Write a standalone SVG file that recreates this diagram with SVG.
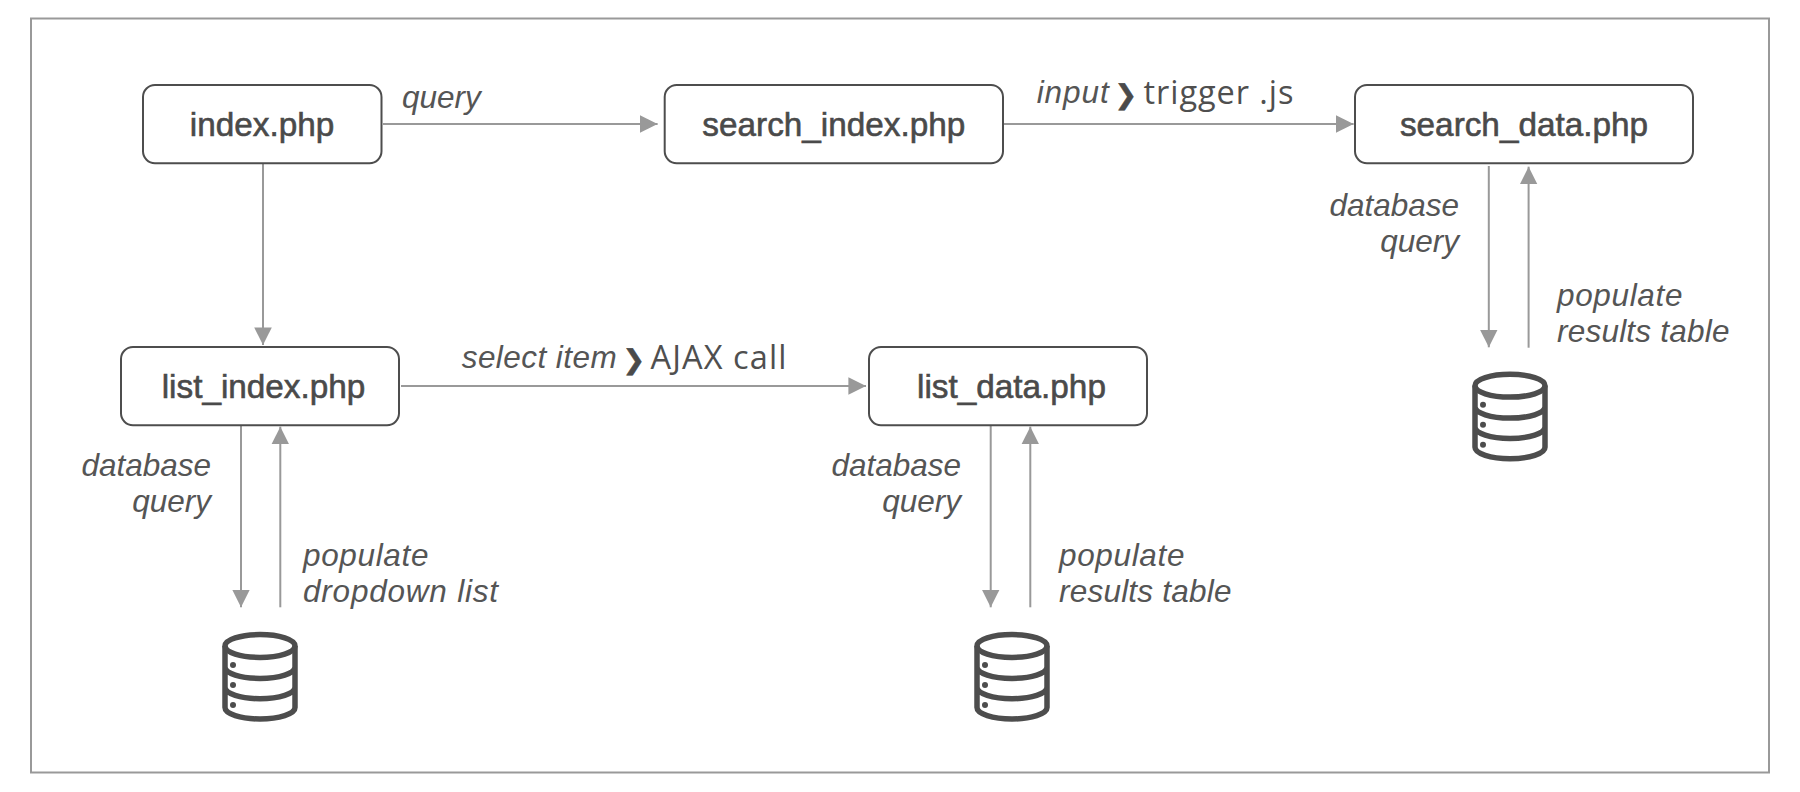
<svg xmlns="http://www.w3.org/2000/svg" width="1800" height="792" viewBox="0 0 1800 792">
<style>
.box{fill:#fff;stroke:#4d4d4d;stroke-width:2}
.nt{font-family:"Liberation Sans",Arial,sans-serif;font-size:33.3px;fill:#4a4a4a;stroke:#4a4a4a;stroke-width:.6;text-anchor:middle}
.lb{font-family:"Liberation Sans",Arial,sans-serif;font-style:italic;font-size:31.5px;fill:#555}
.r{text-anchor:end}
.ch{font-family:"DejaVu Sans",sans-serif;font-size:27px;fill:#4a4a4a;stroke:#4a4a4a;stroke-width:.6}
.tx{font-family:"Open Sans",sans-serif;font-size:32.5px;fill:#4f4f4f}
.c{fill:none;stroke:#999;stroke-width:2}
.ah{fill:#999;stroke:none}
.db{fill:none;stroke:#4d4d4d;stroke-width:5.500}
.dot{fill:#4d4d4d}
</style>
<defs>
<marker id="a" markerUnits="userSpaceOnUse" markerWidth="18" markerHeight="18" refX="17.6" refY="9" orient="auto"><path class="ah" d="M0 .2L17.6 9L0 17.8Z"/></marker>
<g id="dbi">
<ellipse class="db" cx="260" cy="646" rx="35" ry="11.4"/>
<path class="db" d="M225 646V707.6A35 11.4 0 0 0 295 707.6V646M225 667A35 11.4 0 0 0 295 667M225 687.3A35 11.4 0 0 0 295 687.3"/>
<circle class="dot" cx="233" cy="665" r="3"/><circle class="dot" cx="233" cy="685" r="3"/><circle class="dot" cx="233" cy="705" r="3"/>
</g>
</defs>
<rect width="1800" height="792" fill="#fff"/>
<rect id="frame" x="31" y="18.5" width="1738" height="754" fill="none" stroke="#999" stroke-width="2"/>
<g id="connectors">
<path class="c" marker-end="url(#a)" d="M383 124H657.6"/>
<path class="c" marker-end="url(#a)" d="M1003 124H1353.6"/>
<path class="c" marker-end="url(#a)" d="M263 163V345"/>
<path class="c" marker-end="url(#a)" d="M401 386H866"/>
<path class="c" marker-end="url(#a)" d="M241 425V607.3"/>
<path class="c" marker-end="url(#a)" d="M280.3 607.3V426.7"/>
<path class="c" marker-end="url(#a)" d="M990.7 425V607.3"/>
<path class="c" marker-end="url(#a)" d="M1030.3 607.3V426.7"/>
<path class="c" marker-end="url(#a)" d="M1488.8 166V347.3"/>
<path class="c" marker-end="url(#a)" d="M1528.6 347.7V166.7"/>
</g>
<g id="index"><rect class="box" x="143" y="85" width="238.500" height="78.300" rx="12"/><text class="nt" x="262" y="136">index.php</text></g>
<g id="search_index"><rect class="box" x="664.700" y="85" width="338.300" height="78.300" rx="12"/><text class="nt" x="833.800" y="136">search_index.php</text></g>
<g id="search_data"><rect class="box" x="1355" y="85" width="338" height="78.300" rx="12"/><text class="nt" x="1524" y="136">search_data.php</text></g>
<g id="list_index"><rect class="box" x="121" y="347" width="278" height="78.300" rx="12"/><text class="nt" x="263.500" y="398">list_index.php</text></g>
<g id="list_data"><rect class="box" x="869" y="347" width="278" height="78.300" rx="12"/><text class="nt" x="1011.500" y="398">list_data.php</text></g>
<g id="db1"><use href="#dbi"/></g>
<g id="db2"><use href="#dbi" x="752"/></g>
<g id="db3"><use href="#dbi" x="1250" y="-260.300"/></g>
<g id="labels">
<text class="lb" x="402" y="108">query</text>
<text class="lb" x="1036.700" y="103" textLength="72">input</text><text class="ch" x="1114.500" y="103.500">❯</text><text class="tx" x="1143.500" y="103.500" textLength="150">trigger .js</text>
<text class="lb" x="461.700" y="368" textLength="155">select item</text><text class="ch" x="622.500" y="368.500">❯</text><text class="tx" x="650.500" y="368.500" textLength="136">AJAX call</text>
<text class="lb r" x="211" y="476">database</text><text class="lb r" x="211" y="512">query</text>
<text class="lb" x="303" y="566" textLength="125.500">populate</text><text class="lb" x="303" y="602" textLength="195">dropdown list</text>
<text class="lb r" x="961" y="476">database</text><text class="lb r" x="961" y="512">query</text>
<text class="lb" x="1059" y="566" textLength="125.500">populate</text><text class="lb" x="1059" y="602" textLength="172.500">results table</text>
<text class="lb r" x="1459" y="216">database</text><text class="lb r" x="1459" y="252">query</text>
<text class="lb" x="1557" y="306" textLength="125.500">populate</text><text class="lb" x="1557" y="342" textLength="172.500">results table</text>
</g>
</svg>
